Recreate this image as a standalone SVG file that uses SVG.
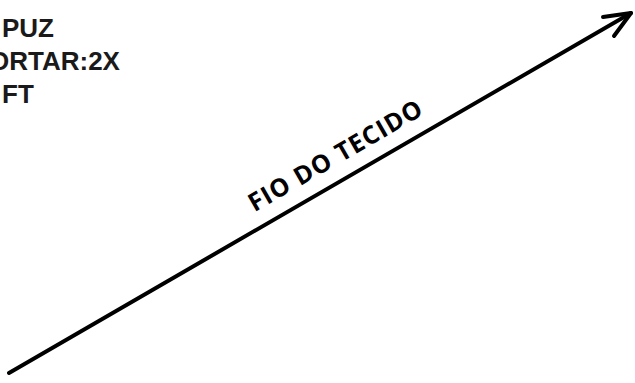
<svg xmlns="http://www.w3.org/2000/svg" width="635" height="383" viewBox="0 0 635 383">
<style>
.lbl{font-family:"Liberation Sans",Arial,sans-serif;font-weight:bold;font-size:26px;fill:#1a1a1a}
.grain{font-family:"Open Sans","Liberation Sans",sans-serif;font-weight:bold;font-size:25px;fill:#000;letter-spacing:1px}
.ln{stroke:#000;stroke-width:4;fill:none;stroke-linecap:round;stroke-linejoin:round}
</style>
<rect width="635" height="383" fill="#fff"/>
<g id="labels">
<text class="lbl" x="2" y="37">PUZ</text>
<text class="lbl" x="-11" y="70">ORTAR:2X</text>
<text class="lbl" x="2" y="103">FT</text>
</g>
<g id="connectors">
<line class="ln" x1="9" y1="373" x2="631" y2="13"/>
<polyline class="ln" points="603,17 631,13 614,36"/>
</g>
<g id="grain-label">
<text class="grain" x="340" y="163" text-anchor="middle" transform="rotate(-30 340 163)">FIO DO TECIDO</text>
</g>
</svg>
